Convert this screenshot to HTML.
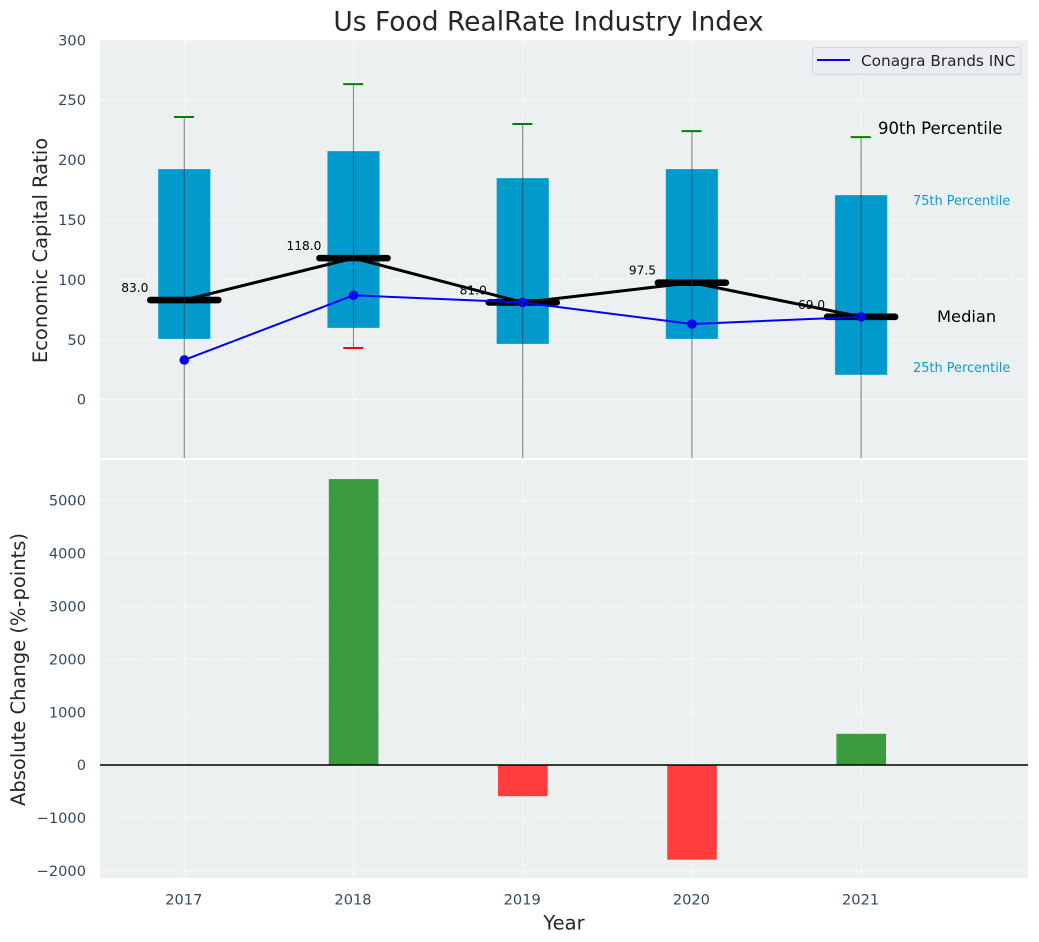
<!DOCTYPE html>
<html lang="en">
<head>
<meta charset="utf-8">
<title>Us Food RealRate Industry Index</title>
<style>
html,body{margin:0;padding:0;background:#fff;width:1039px;height:942px;overflow:hidden}
svg{display:block;font-family:"DejaVu Sans","Liberation Sans",sans-serif}
</style>
</head>
<body>
<svg id="chart" xmlns="http://www.w3.org/2000/svg" width="1039" height="942" viewBox="0 0 1039 942">
<defs>
<clipPath id="clip-top"><rect x="100" y="40" width="928" height="418"/></clipPath>
<clipPath id="clip-bottom"><rect x="100" y="460" width="928" height="418"/></clipPath>
</defs>
<text x="548.5" y="30.5" text-anchor="middle" font-size="26.5" fill="#262626">Us Food RealRate Industry Index</text>
<rect x="100" y="40" width="928" height="418" fill="#ecf0f1"/>
<rect x="100" y="460" width="928" height="418" fill="#ecf0f1"/>
<g id="top-grid"></g>
<g id="bottom-grid"></g>
<g id="top-marks" clip-path="url(#clip-top)"></g>
<g id="bottom-marks" clip-path="url(#clip-bottom)"></g>
<g id="axis-labels"></g>
<text transform="translate(47,250.5) rotate(-90)" text-anchor="middle" font-size="19.5" fill="#262626">Economic Capital Ratio</text>
<text transform="translate(25,669.5) rotate(-90)" text-anchor="middle" font-size="19.5" fill="#262626">Absolute Change (%-points)</text>
<text x="564" y="929.5" text-anchor="middle" font-size="19.5" fill="#262626">Year</text>
<text x="878" y="134" font-size="16.5" fill="#000">90th Percentile</text>
<text x="913" y="205" font-size="12.9" fill="#0f9bcb">75th Percentile</text>
<text x="937" y="322" font-size="16.3" fill="#000">Median</text>
<text x="913" y="372" font-size="12.9" fill="#0f9bcb">25th Percentile</text>
<g>
<rect x="812.5" y="47.5" width="208.5" height="27" rx="3" fill="#eaeaf2" fill-opacity="0.95" stroke="#d4d4d8"/>
<line x1="817" y1="60" x2="850" y2="60" stroke="#0000ff" stroke-width="2"/>
<text x="861" y="66" font-size="15.3" fill="#262626">Conagra Brands INC</text>
</g>
</svg>
<script>
const years = [2017, 2018, 2019, 2020, 2021];
const q1 = [50.5, 59.7, 46.3, 50.5, 20.5];
const q3 = [192.4, 207.4, 184.9, 192.4, 170.7];
const p90 = [235.8, 263.3, 230, 224, 219];
const p10 = [-60, 43, -60, -60, -60];
const medians = [83, 118, 81, 97.5, 69];
const medianLabels = ["83.0", "118.0", "81.0", "97.5", "69.0"];
const company = [33, 87, 81, 63, 69];
const changes = [0, 5405, -590, -1790, 590];
const topTicks = [0, 50, 100, 150, 200, 250, 300];
const bottomTicks = [-2000, -1000, 0, 1000, 2000, 3000, 4000, 5000];

const NS = 'http://www.w3.org/2000/svg';
const PLOT_LEFT = 100, PLOT_RIGHT = 1028;
const xPos = y => 184.3 + (y - 2017) * 169.2;
const yTop = v => 399.5 - v * 1.198;
const yBottom = v => 765 - v * 0.0529;
const fmt = v => (v < 0 ? '\u2212' + Math.abs(v) : String(v));

function mk(parent, tag, attrs, text) {
  const el = document.createElementNS(NS, tag);
  for (const k in attrs) el.setAttribute(k, attrs[k]);
  if (text !== undefined) el.textContent = text;
  parent.appendChild(el);
  return el;
}

const topGrid = document.getElementById('top-grid');
const bottomGrid = document.getElementById('bottom-grid');
const topMarks = document.getElementById('top-marks');
const bottomMarks = document.getElementById('bottom-marks');
const axisLabels = document.getElementById('axis-labels');
const gridStyle = {stroke: '#ffffff', 'stroke-width': 1, 'stroke-opacity': 0.85, 'stroke-dasharray': '4.5 2'};

topTicks.forEach(t => {
  const g = mk(topGrid, 'line', {x1: PLOT_LEFT, x2: PLOT_RIGHT, y1: yTop(t), y2: yTop(t), ...gridStyle});
  
  
  const l = mk(axisLabels, 'text', {x: 86, y: yTop(t) + 5.2, 'text-anchor': 'end', 'font-size': 14.6, fill: '#34495e'}, fmt(t));
  
  
});

bottomTicks.forEach(t => {
  const g = mk(bottomGrid, 'line', {x1: PLOT_LEFT, x2: PLOT_RIGHT, y1: yBottom(t), y2: yBottom(t), ...gridStyle});
  
  
  const l = mk(axisLabels, 'text', {x: 86, y: yBottom(t) + 5.2, 'text-anchor': 'end', 'font-size': 14.6, fill: '#34495e'}, fmt(t));
  
  
});

years.forEach(y => {
  const a = mk(topGrid, 'line', {x1: xPos(y), x2: xPos(y), y1: 40, y2: 458, ...gridStyle});
  
  
  const b = mk(bottomGrid, 'line', {x1: xPos(y), x2: xPos(y), y1: 460, y2: 878, ...gridStyle});
  
  
  const l = mk(axisLabels, 'text', {x: xPos(y) - 0.5, y: 904.3, 'text-anchor': 'middle', 'font-size': 14.6, fill: '#34495e'}, String(y));
  
  
});

/* interquartile boxes */
years.forEach((y, i) => {
  const r = mk(topMarks, 'rect', {x: xPos(y) - 26.2, y: yTop(q3[i]), width: 52.4, height: yTop(q1[i]) - yTop(q3[i]), fill: '#009acd', stroke: '#ffffff', 'stroke-opacity': 0.25, 'stroke-width': 1});
  
  
});

/* median connecting line */
const medianLine = mk(topMarks, 'polyline', {points: years.map((y, i) => xPos(y) + ',' + yTop(medians[i])).join(' '), fill: 'none', stroke: '#000', 'stroke-width': 3});



/* median bars and value labels */
years.forEach((y, i) => {
  const m = mk(topMarks, 'line', {x1: xPos(y) - 34, x2: xPos(y) + 34, y1: yTop(medians[i]), y2: yTop(medians[i]), stroke: '#000', 'stroke-width': 6.6, 'stroke-linecap': 'round'});
  
  
  const t = mk(topMarks, 'text', {x: xPos(y) - 49.5, y: yTop(medians[i]) - 8, 'text-anchor': 'middle', 'font-size': 12.2, fill: '#000'}, medianLabels[i]);
  
  
});

/* company series */
const companyLine = mk(topMarks, 'polyline', {points: years.map((y, i) => xPos(y) + ',' + yTop(company[i])).join(' '), fill: 'none', stroke: '#0000ff', 'stroke-width': 2});


years.forEach((y, i) => {
  const c = mk(topMarks, 'circle', {cx: xPos(y), cy: yTop(company[i]), r: 4.8, fill: '#0000ff'});
  
  
});

/* whiskers and caps */
years.forEach((y, i) => {
  const w = mk(topMarks, 'line', {x1: xPos(y), x2: xPos(y), y1: yTop(p90[i]), y2: yTop(p10[i]), stroke: '#2b3a3f', 'stroke-opacity': 0.55, 'stroke-width': 1.2});
  
  
  const hi = mk(topMarks, 'line', {x1: xPos(y) - 10.3, x2: xPos(y) + 9.7, y1: yTop(p90[i]), y2: yTop(p90[i]), stroke: '#008000', 'stroke-width': 2});
  
  
  const lo = mk(topMarks, 'line', {x1: xPos(y) - 10.3, x2: xPos(y) + 9.7, y1: yTop(p10[i]), y2: yTop(p10[i]), stroke: '#ff0000', 'stroke-width': 2});
  
  
});

/* change bars */
years.forEach((y, i) => {
  const v = changes[i];
  const top = Math.min(yBottom(v), yBottom(0));
  const h = Math.abs(yBottom(v) - yBottom(0));
  const b = mk(bottomMarks, 'rect', {x: xPos(y) - 24.7, y: top, width: 49.6, height: h, fill: v >= 0 ? '#3a9c3f' : '#ff3d3d'});
  
  
});
const zeroLine = mk(bottomMarks, 'line', {x1: PLOT_LEFT, x2: PLOT_RIGHT, y1: yBottom(0), y2: yBottom(0), stroke: '#000', 'stroke-width': 1.5});


</script>
</body>
</html>
